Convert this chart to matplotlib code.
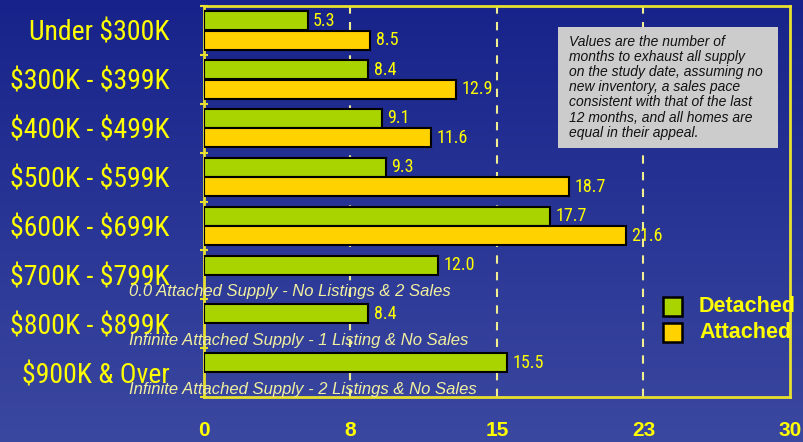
import numpy as np
import matplotlib
matplotlib.use("Agg")
import matplotlib.pyplot as plt
from matplotlib import font_manager
from matplotlib.patches import Rectangle
import matplotlib.transforms as mtransforms

plt.rcParams["text.parse_math"] = False

categories = ["Under $300K", "$300K - $399K", "$400K - $499K", "$500K - $599K",
              "$600K - $699K", "$700K - $799K", "$800K - $899K", "$900K & Over"]
detached = [5.3, 8.4, 9.1, 9.3, 17.7, 12.0, 8.4, 15.5]
attached = [8.5, 12.9, 11.6, 18.7, 21.6, None, None, None]
notes = {5: "0.0 Attached Supply - No Listings & 2 Sales",
         6: "Infinite Attached Supply - 1 Listing & No Sales",
         7: "Infinite Attached Supply - 2 Listings & No Sales"}
xticks = [0, 7.5, 15, 22.5, 30]
xticklabels = ["0", "8", "15", "23", "30"]
note_text = ("Values are the number of\nmonths to exhaust all supply\non the study date, assuming no\n"
             "new inventory, a sales pace\nconsistent with that of the last\n12 months, and all homes are\n"
             "equal in their appeal.")

names = {f.name for f in font_manager.fontManager.ttflist}
narrow = "Liberation Sans"
for cand in ["Arial Narrow", "Liberation Sans Narrow", "Roboto Condensed", "Archivo Narrow", "PT Sans Narrow"]:
    if cand in names:
        narrow = cand
        break
base = "Liberation Sans"

YEL = "#FFFF00"
GREEN = "#AAD400"
GOLD = "#FFD200"
SPINE = "#E8E030"

W, H = 804, 442
fig = plt.figure(figsize=(W / 100, H / 100), dpi=100)

# gradient background
bg = fig.add_axes([0, 0, 1, 1], zorder=-10)
top = np.array([0x17, 0x23, 0x8A]) / 255
bot = np.array([0x3B, 0x48, 0xA0]) / 255
t = np.linspace(0, 1, 256)[:, None]
grad = (top[None, :] * (1 - t) + bot[None, :] * t)[:, None, :]
bg.imshow(grad, aspect="auto", extent=[0, 1, 0, 1], origin="upper")
bg.axis("off")

ax = fig.add_axes([204 / W, 1 - 397 / H, (790 - 204) / W, (397 - 6) / H])
ax.patch.set_alpha(0)

y = np.arange(len(categories))
bh = 0.39
ax.barh(y - 0.2, detached, height=bh, color=GREEN, edgecolor="black", linewidth=1.5, zorder=3)
ya = [i + 0.2 for i, v in enumerate(attached) if v is not None]
va = [v for v in attached if v is not None]
ax.barh(ya, va, height=bh, color=GOLD, edgecolor="black", linewidth=1.5, zorder=3)

for i, v in enumerate(detached):
    ax.annotate(f"{v:.1f}", (v, i - 0.2), xytext=(4, 0), textcoords="offset points",
                va="center", ha="left", color=YEL, fontsize=13, family=narrow, zorder=4)
for i, v in enumerate(attached):
    if v is not None:
        ax.annotate(f"{v:.1f}", (v, i + 0.2), xytext=(4, 0), textcoords="offset points",
                    va="center", ha="left", color=YEL, fontsize=13, family=narrow, zorder=4)

trans = mtransforms.blended_transform_factory(ax.transAxes, ax.transData)
for i, s in notes.items():
    ax.text(-0.128, i + 0.35, s, transform=trans, ha="left", va="center",
            style="italic", color="#F2F0A0", fontsize=12, family=base, zorder=5,
            clip_on=False)

ax.set_xlim(0, 30)
ax.set_ylim(7.5, -0.5)
ax.set_xticks(xticks)
ax.set_xticklabels(xticklabels, color=YEL, fontsize=15, fontweight="bold", family=base)
ax.tick_params(axis="x", length=0, pad=17)
ax.set_yticks(y)
ax.set_yticklabels(categories, color=YEL, fontsize=20, family=narrow)
ax.tick_params(axis="y", length=0, pad=25)
ax.set_yticks(np.arange(-0.5, 8, 1), minor=True)
ax.tick_params(axis="y", which="minor", length=6, direction="inout", color=SPINE, width=1.5)
for x in [7.5, 15, 22.5]:
    ax.axvline(x, color="#F0EE90", linestyle=(0, (4, 4)), linewidth=1.5, zorder=1)
for sp in ax.spines.values():
    sp.set_color(SPINE)
    sp.set_linewidth(2)

# note box
fig.patches.append(Rectangle((558 / W, 1 - 148 / H), (778 - 558) / W, (148 - 27) / H,
                             transform=fig.transFigure, facecolor="#CCCCCC", edgecolor="none",
                             zorder=5))
fig.text(569 / W, 1 - 35 / H, note_text, ha="left", va="top", style="italic", color="#111111",
         fontsize=10, family=base, linespacing=1.1, zorder=6)

# legend
for k, (c, lab) in enumerate([(GREEN, "Detached"), (GOLD, "Attached")]):
    cy = 306 + 26 * k
    fig.patches.append(Rectangle((663 / W, 1 - (cy + 10) / H), 19 / W, 19 / H,
                                 transform=fig.transFigure, facecolor=c, edgecolor="black",
                                 linewidth=1.8, zorder=5))
    fig.text(699 / W, 1 - cy / H, lab, ha="left", va="center", color=YEL, fontsize=15.5,
             fontweight="bold", family=base, zorder=6)

fig.savefig("out.png", dpi=100)
